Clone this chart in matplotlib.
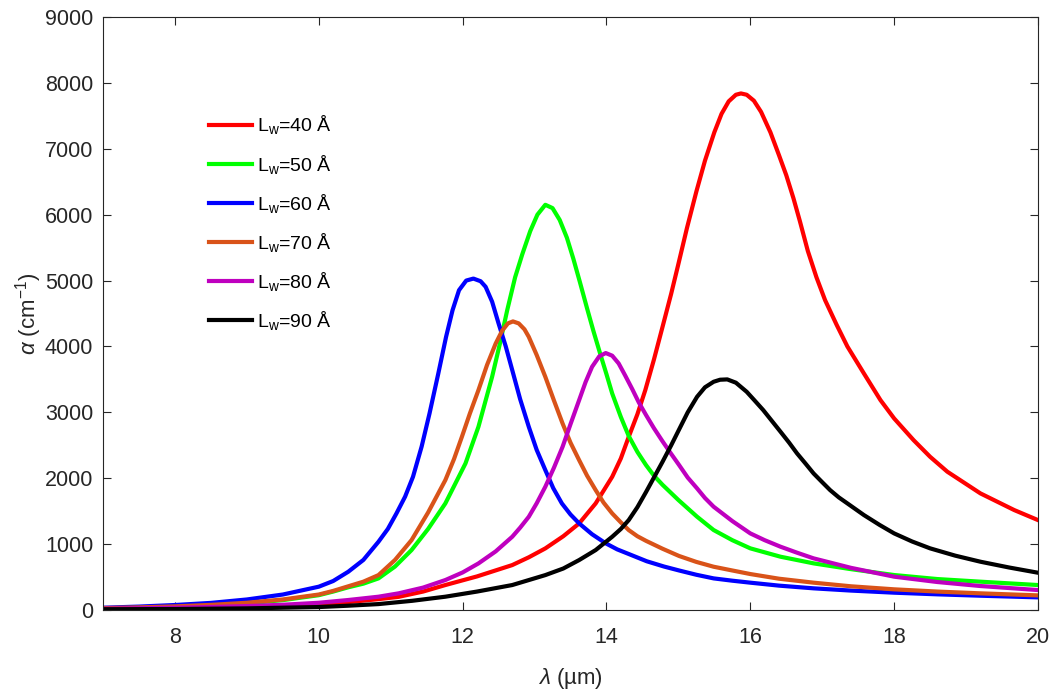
import matplotlib
matplotlib.use("Agg")
import matplotlib.pyplot as plt

plt.rcParams['font.family'] = ['Liberation Sans', 'DejaVu Sans']
plt.rcParams['mathtext.fontset'] = 'custom'
plt.rcParams['mathtext.rm'] = 'Liberation Sans'
plt.rcParams['mathtext.it'] = 'Liberation Sans:italic'

# values (lambda in um, alpha in cm^-1)
x40 = [7, 8, 9, 9.5, 10, 10.41, 10.83, 11.11, 11.45, 11.76, 12.2, 12.69, 12.92, 13.15, 13.4,
       13.62, 13.85, 14.08, 14.2, 14.31, 14.43, 14.54, 14.66, 14.78, 14.9, 15.0, 15.12,
       15.25, 15.37, 15.5, 15.6, 15.7, 15.8, 15.87, 15.95, 16.05, 16.15, 16.28, 16.4,
       16.5, 16.6, 16.69, 16.8, 16.92, 17.04, 17.2, 17.35, 17.58, 17.81, 18.0, 18.27,
       18.5, 18.74, 19.2, 19.67, 20.0]
a40 = [18, 30, 50, 66, 90, 120, 165, 200, 280, 379, 510, 682, 800, 935, 1120,
       1314, 1618, 2022, 2300, 2629, 2970, 3337, 3800, 4298, 4800, 5250, 5800,
       6350, 6820, 7250, 7530, 7720, 7820, 7840, 7820, 7730, 7560, 7250, 6900,
       6600, 6250, 5900, 5450, 5050, 4703, 4330, 4000, 3590, 3186, 2908, 2579,
       2326, 2099, 1770, 1517, 1365]

x50 = [7, 7.5, 8, 8.5, 9, 9.5, 10, 10.2, 10.41, 10.62, 10.83, 11.06, 11.29, 11.52, 11.76,
       12.04, 12.22, 12.41, 12.52, 12.62, 12.73, 12.83, 12.94, 13.04, 13.15, 13.25, 13.35,
       13.45, 13.54, 13.63, 13.73, 13.82, 13.91, 14.0, 14.08, 14.2, 14.31, 14.43, 14.55,
       14.66, 14.78, 15.0, 15.26, 15.49, 15.75, 16.0, 16.42, 16.88, 17.4, 18.0, 18.6,
       19.2, 20.0]
a50 = [25, 37, 52, 72, 100, 150, 225, 280, 345, 400, 480, 660, 910, 1230, 1618,
       2225, 2781, 3539, 4050, 4550, 5050, 5400, 5750, 6000, 6150, 6100, 5920,
       5650, 5330, 4980, 4580, 4230, 3900, 3580, 3286, 2930, 2640, 2400, 2200,
       2040, 1900, 1670, 1416, 1214, 1060, 936, 809, 708, 620, 531, 470,
       430, 379]

x60 = [7, 7.5, 8, 8.5, 9, 9.5, 10, 10.2, 10.41, 10.62, 10.83, 10.96, 11.08, 11.2, 11.31,
       11.43, 11.54, 11.66, 11.77, 11.86, 11.95, 12.05, 12.15, 12.25, 12.32, 12.41, 12.5,
       12.6, 12.69, 12.8, 12.92, 13.03, 13.15, 13.26, 13.38, 13.5, 13.62, 13.8, 13.99,
       14.15, 14.31, 14.56, 14.8, 15.01, 15.25, 15.49, 15.75, 16.0, 16.4, 16.88, 17.4,
       18.0, 18.6, 19.2, 20.0]
a60 = [35, 52, 76, 108, 160, 235, 354, 440, 581, 760, 1036, 1230, 1466, 1720, 2022,
       2480, 2984, 3580, 4146, 4550, 4854, 5000, 5030, 4990, 4905, 4680, 4349,
       4000, 3641, 3200, 2781, 2430, 2124, 1850, 1618, 1450, 1315, 1150, 1012,
       920, 850, 740, 660, 600, 535, 480, 445, 415, 370, 329, 295,
       263, 238, 217, 192]

x70 = [7, 7.5, 8, 8.5, 9, 9.5, 10, 10.2, 10.41, 10.62, 10.83, 11.06, 11.29, 11.52, 11.76,
       11.88, 11.99, 12.1, 12.22, 12.34, 12.46, 12.55, 12.63, 12.7, 12.78, 12.86, 12.92,
       13.03, 13.15, 13.27, 13.39, 13.5, 13.62, 13.73, 13.85, 13.96, 14.08, 14.2, 14.31,
       14.43, 14.55, 14.78, 15.01, 15.25, 15.49, 15.75, 16.0, 16.4, 16.88, 17.4, 18.0,
       18.6, 19.2, 20.0]
a70 = [30, 40, 55, 78, 110, 160, 235, 290, 360, 430, 530, 760, 1061, 1480, 1972,
       2290, 2629, 2980, 3337, 3720, 4045, 4240, 4350, 4380, 4350, 4260, 4146,
       3870, 3539, 3180, 2831, 2540, 2275, 2040, 1820, 1630, 1466, 1330, 1213,
       1120, 1050, 930, 820, 730, 657, 600, 546, 475, 415, 360, 314,
       280, 253, 222]

x80 = [7, 7.5, 8, 8.5, 9, 9.5, 10, 10.41, 10.83, 11.11, 11.45, 11.76, 12.0, 12.22, 12.46,
       12.69, 12.8, 12.92, 13.03, 13.15, 13.27, 13.39, 13.5, 13.62, 13.71, 13.8, 13.9,
       13.99, 14.08, 14.17, 14.26, 14.36, 14.45, 14.55, 14.66, 14.78, 14.9, 15.01, 15.13,
       15.26, 15.37, 15.49, 15.75, 16.0, 16.2, 16.42, 16.65, 16.88, 17.4, 18.0, 18.6,
       19.2, 20.0]
a80 = [20, 27, 35, 46, 60, 80, 110, 152, 202, 253, 340, 455, 570, 707, 890,
       1112, 1250, 1415, 1620, 1871, 2160, 2477, 2820, 3185, 3460, 3691, 3850,
       3900, 3860, 3742, 3560, 3350, 3150, 2960, 2760, 2560, 2370, 2200, 2010,
       1846, 1700, 1568, 1350, 1163, 1060, 961, 870, 784, 640, 506, 425,
       364, 303]

x90 = [7, 8, 9, 10, 10.4, 10.83, 11.3, 11.76, 12.2, 12.69, 13.15, 13.4, 13.62, 13.85, 14.08,
       14.2, 14.31, 14.43, 14.55, 14.66, 14.78, 14.9, 15.01, 15.13, 15.26, 15.37, 15.49,
       15.58, 15.68, 15.8, 15.95, 16.06, 16.18, 16.3, 16.42, 16.54, 16.65, 16.77, 16.88,
       17.0, 17.11, 17.23, 17.35, 17.58, 17.8, 18.0, 18.25, 18.5, 18.85, 19.2, 19.6,
       20.0]
a90 = [12, 15, 25, 45, 65, 90, 140, 202, 280, 379, 530, 630, 758, 910, 1112,
       1230, 1365, 1560, 1790, 2010, 2250, 2500, 2740, 3000, 3236, 3380, 3464,
       3495, 3500, 3450, 3312, 3180, 3034, 2870, 2706, 2540, 2377, 2220, 2073,
       1940, 1820, 1710, 1618, 1441, 1290, 1163, 1040, 936, 825, 733, 645,
       566]

labels = ['L$_\\mathregular{w}$=40 Å', 'L$_\\mathregular{w}$=50 Å', 'L$_\\mathregular{w}$=60 Å',
          'L$_\\mathregular{w}$=70 Å', 'L$_\\mathregular{w}$=80 Å', 'L$_\\mathregular{w}$=90 Å']
colors = ['#ff0000', '#00ff00', '#0000ff', '#d95319', '#bf00bf', '#000000']

fig = plt.figure(figsize=(10.6, 6.97), dpi=100)
ax = fig.add_axes([0.0972, 0.1248, 0.882, 0.8508])

series = [(x40, a40), (x50, a50), (x60, a60), (x70, a70), (x80, a80), (x90, a90)]
for (xs, ys), lab, c in zip(series, labels, colors):
    ax.plot(xs, ys, color=c, lw=3, label=lab, solid_joinstyle='round')

ax.set_xlim(7, 20)
ax.set_ylim(0, 9000)
ax.set_xticks([8, 10, 12, 14, 16, 18, 20])
ax.set_yticks(range(0, 9001, 1000))
ax.tick_params(direction='in', length=6, width=0.8, top=True, right=True,
               labelsize=15.5, colors='#262626')
ax.tick_params(axis='x', pad=12)
ax.tick_params(axis='y', pad=7)
for s in ax.spines.values():
    s.set_color('#262626')
    s.set_linewidth(0.8)

ax.set_xlabel('$\\lambda$ (µm)', fontsize=16, color='#262626', labelpad=13)
ax.set_ylabel('$\\alpha$ (cm$^{-1}$)', fontsize=16, color='#262626', labelpad=1)

ax.legend(loc='upper left', bbox_to_anchor=(0.095, 0.867), frameon=False,
          fontsize=14, handlelength=2.2, handletextpad=0.25, labelspacing=0.83)

plt.savefig('out.png', dpi=100)
